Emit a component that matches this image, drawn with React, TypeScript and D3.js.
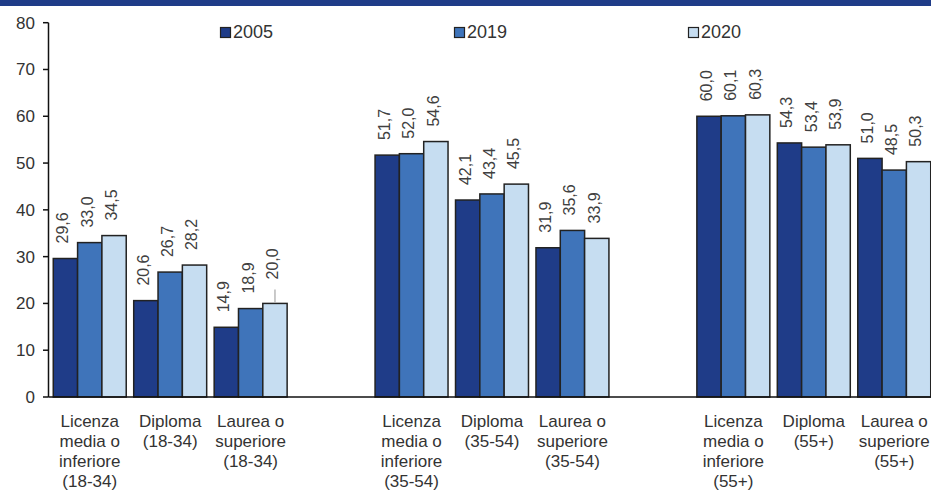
import React from 'react';
import * as d3 from 'd3';

const categories = [
  'Licenza\nmedia o\ninferiore\n(18-34)',
  'Diploma\n(18-34)',
  'Laurea o\nsuperiore\n(18-34)',
  'Licenza\nmedia o\ninferiore\n(35-54)',
  'Diploma\n(35-54)',
  'Laurea o\nsuperiore\n(35-54)',
  'Licenza\nmedia o\ninferiore\n(55+)',
  'Diploma\n(55+)',
  'Laurea o\nsuperiore\n(55+)',
];
// empty slots between the age groups
const slots = ['0', '1', '2', 'gapA', '3', '4', '5', 'gapB', '6', '7', '8'];

const years = ['2005', '2019', '2020'];
const values2005 = [29.6, 20.6, 14.9, 51.7, 42.1, 31.9, 60.0, 54.3, 51.0];
const values2019 = [33.0, 26.7, 18.9, 52.0, 43.4, 35.6, 60.1, 53.4, 48.5];
const values2020 = [34.5, 28.2, 20.0, 54.6, 45.5, 33.9, 60.3, 53.9, 50.3];
const yTicks = [0, 10, 20, 30, 40, 50, 60, 70, 80];

const colors = ['#1F3C88', '#3F74BA', '#C6DDF1'];
const W = 931;
const H = 490;
const font = '"Liberation Sans", Arial, sans-serif';
const fmt = (v: number) => d3.format('.1f')(v).replace('.', ',');

const App: React.FC = () => {
  const series = [values2005, values2019, values2020];

  const x = d3.scaleBand<string>()
    .domain(slots)
    .range([49, 935])
    .paddingInner(0.093)
    .paddingOuter(0.053);

  const xs = d3.scaleBand<string>()
    .domain(years)
    .range([0, x.bandwidth()]);

  const y = d3.scaleLinear().domain([0, 80]).range([397, 22.7]);

  return (
    <svg width={W} height={H} style={{ position: 'absolute', left: 0, top: 0, fontFamily: font }}>
      <rect x={0} y={0} width={W} height={6} fill="#1F3C88" />

      {/* legend */}
      {years.map((yr, i) => (
        <g key={yr} transform={`translate(${220 + i * 234},27)`}>
          <rect x={0.5} y={0.5} width={10} height={10} fill={colors[i]} stroke="#222" strokeWidth={1.2} />
          <text x={13} y={11} fontSize={18} fill="#333">{yr}</text>
        </g>
      ))}

      {/* y axis */}
      <line x1={48.5} x2={48.5} y1={y(80)} y2={y(0)} stroke="#111" strokeWidth={1.5} />
      {yTicks.map(t => (
        <g key={t}>
          <line x1={43} x2={48.5} y1={y(t)} y2={y(t)} stroke="#111" strokeWidth={1.5} />
          <text x={35} y={y(t)} dy="0.35em" textAnchor="end" fontSize={17} fill="#333">{t}</text>
        </g>
      ))}

      {/* bars */}
      {categories.map((cat, ci) => {
        const x0 = x(String(ci)) || 0;
        return (
          <g key={cat} transform={`translate(${x0},0)`}>
            {years.map((yr, si) => {
              const v = series[si][ci];
              const bx = xs(yr) || 0;
              const cx = bx + xs.bandwidth() / 2;
              const top = y(v);
              // one label lifted with a leader line to avoid overlap
              const lift = ci === 2 && si === 2 ? 9 : 0;
              return (
                <g key={yr}>
                  <rect x={bx} y={top} width={xs.bandwidth()} height={y(0) - top}
                    fill={colors[si]} stroke="#222" strokeWidth={1.5} />
                  {lift > 0 && (
                    <line x1={cx} x2={cx} y1={top - 1} y2={top - 14} stroke="#A6A6A6" strokeWidth={1.2} />
                  )}
                  <text transform={`translate(${cx},${top - 15 - lift}) rotate(-90)`}
                    dy="0.18em" fontSize={16} fill="#404040">{fmt(v)}</text>
                </g>
              );
            })}
            {cat.split('\n').map((line, li) => (
              <text key={li} x={x.bandwidth() / 2} y={427 + li * 20} textAnchor="middle"
                fontSize={17} fill="#333">{line}</text>
            ))}
          </g>
        );
      })}

      {/* x axis */}
      <line x1={48.5} x2={W} y1={y(0)} y2={y(0)} stroke="#111" strokeWidth={1.5} />
    </svg>
  );
};

export default App;
